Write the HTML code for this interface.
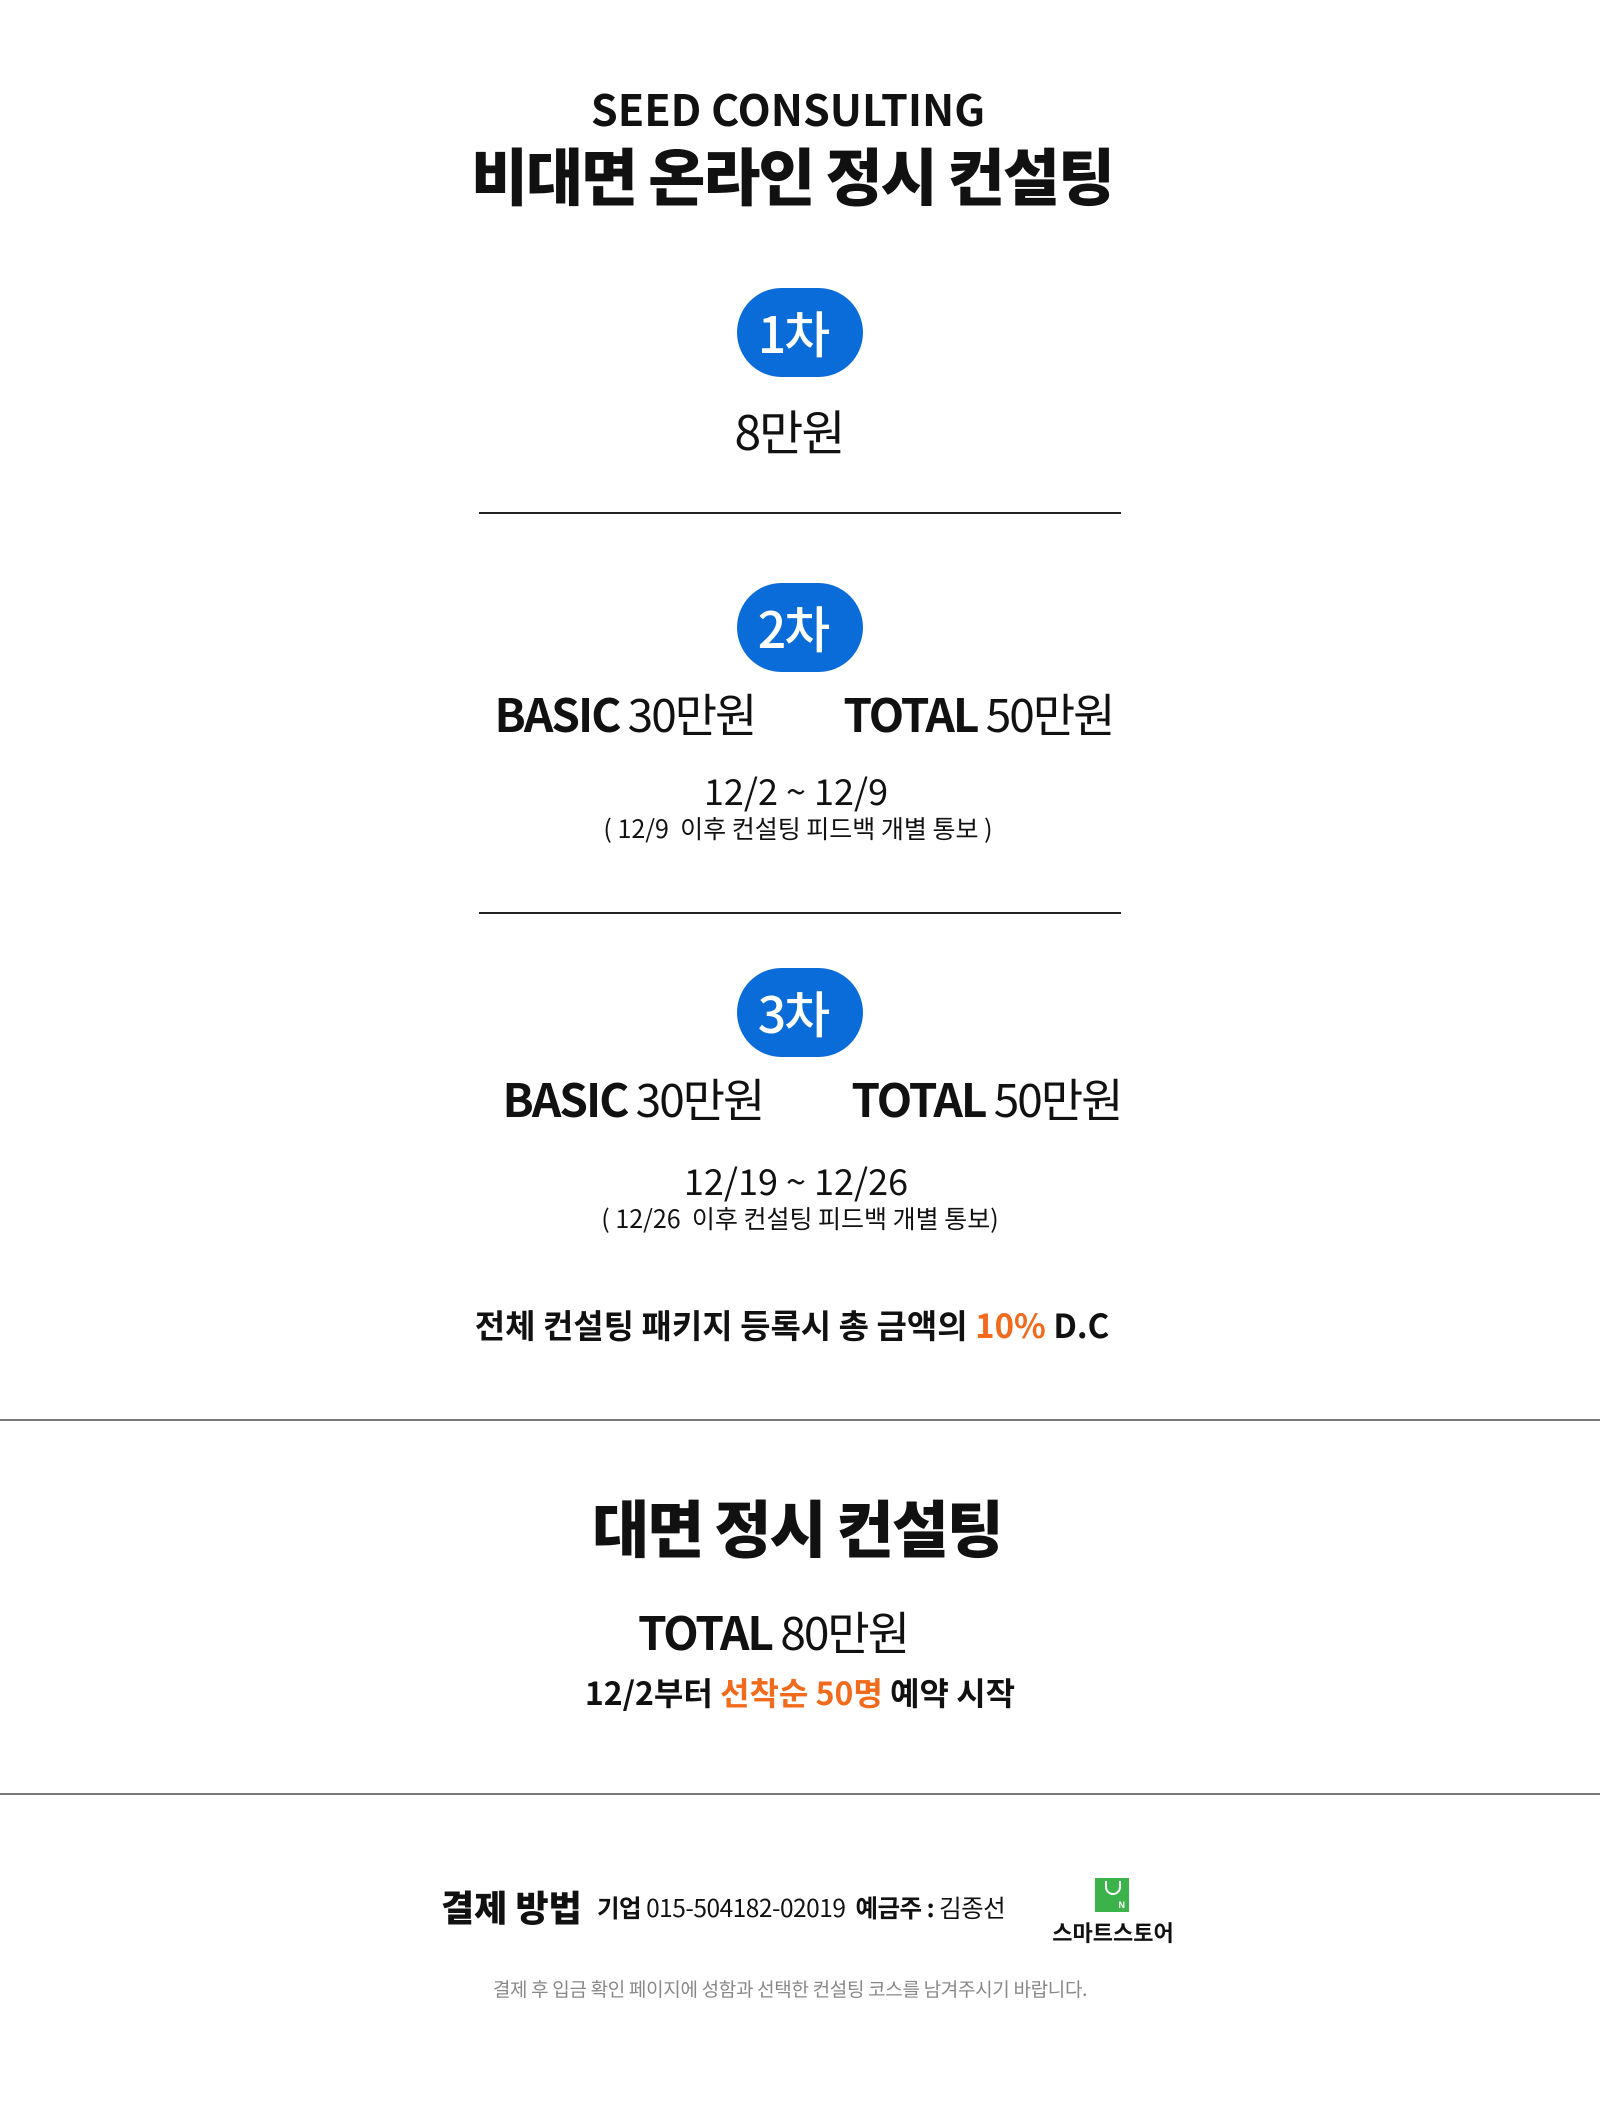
<!DOCTYPE html>
<html><head><meta charset="utf-8"><style>
body{margin:0;width:1600px;height:2117px;background:#fff;position:relative;overflow:hidden;font-family:"Liberation Sans","Noto Sans CJK KR",sans-serif;color:#111}
.t{position:absolute;left:0;width:1600px;text-align:center;line-height:1;white-space:nowrap}
.k{font-family:"Noto Sans CJK KR",sans-serif}
.pill{position:absolute;left:737px;width:126px;height:89px;border-radius:45px;background:#0a6cd8;color:#fff;font-family:"Noto Sans CJK KR",sans-serif;font-size:50px;font-weight:500;line-height:89px;text-align:center;letter-spacing:-2px;text-indent:-14px}
.ln{position:absolute;left:479px;width:642px;height:2px;background:#222}
.full{position:absolute;left:0;width:1600px;height:2px;background:#777}
.or{color:#f26a1b}
</style></head><body>
<div class="t k" style="top:87px;left:-12px;font-size:43px;font-weight:700">SEED CONSULTING</div>
<div class="t k" style="top:142px;left:-8px;font-size:62px;font-weight:900;letter-spacing:-2px">비대면 온라인 정시 컨설팅</div>

<div class="pill" style="top:288px">1차</div>
<div class="t k" style="top:405px;left:-11px;font-size:48px;font-weight:400;letter-spacing:-2px">8만원</div>
<div class="ln" style="top:512px"></div>

<div class="pill" style="top:583px">2차</div>
<div class="t k" style="top:690px;left:4px;font-size:46px;letter-spacing:-2px"><b>BASIC</b> 30만원<span style="display:inline-block;width:88px"></span><b>TOTAL</b> 50만원</div>
<div class="t k" style="top:772px;left:-4px;font-size:36px">12/2 ~ 12/9</div>
<div class="t k" style="top:816px;left:-2px;font-size:25px">( 12/9&nbsp; 이후 컨설팅 피드백 개별 통보 )</div>
<div class="ln" style="top:912px"></div>

<div class="pill" style="top:968px">3차</div>
<div class="t k" style="top:1075px;left:12px;font-size:46px;letter-spacing:-2px"><b>BASIC</b> 30만원<span style="display:inline-block;width:88px"></span><b>TOTAL</b> 50만원</div>
<div class="t k" style="top:1162px;left:-4px;font-size:36px">12/19 ~ 12/26</div>
<div class="t k" style="top:1206px;font-size:25px">( 12/26&nbsp; 이후 컨설팅 피드백 개별 통보)</div>

<div class="t k" style="top:1308px;left:-8px;font-size:33px;font-weight:700">전체 컨설팅 패키지 등록시 총 금액의 <span class="or">10%</span> D.C</div>
<div class="full" style="top:1419px"></div>

<div class="t k" style="top:1494px;left:-3px;font-size:62px;font-weight:900;letter-spacing:-2px">대면 정시 컨설팅</div>
<div class="t k" style="top:1608px;left:-27px;font-size:46px;letter-spacing:-2px"><b>TOTAL</b> 80만원</div>
<div class="t k" style="top:1676px;font-size:32px;font-weight:700">12/2부터 <span class="or">선착순 50명</span> 예약 시작</div>
<div class="full" style="top:1793px"></div>

<div class="k" style="position:absolute;left:441px;top:1888px;font-size:36px;font-weight:900;line-height:1;white-space:nowrap">결제 방법</div>
<div class="k" style="position:absolute;left:597px;top:1896px;font-size:24.5px;line-height:1;white-space:nowrap;letter-spacing:-0.5px"><b>기업</b> 015-504182-02019&nbsp; <b>예금주 :</b> 김종선</div>
<div style="position:absolute;left:1095px;top:1878px;width:34px;height:34px;background:#3cb34a"><div style="position:absolute;left:10px;top:3px;width:12px;height:12px;border:2px solid #fff;border-top:none;border-radius:0 0 8px 8px"></div><div style="position:absolute;right:4px;bottom:2px;color:#fff;font-size:9px;font-weight:700;font-family:'Liberation Sans',sans-serif">N</div></div>
<div class="k" style="position:absolute;left:1050px;top:1921px;width:126px;text-align:center;font-size:22px;font-weight:700;line-height:1;white-space:nowrap">스마트스토어</div>
<div class="t k" style="top:1979px;left:-10px;font-size:19px;color:#888;letter-spacing:-0.3px">결제 후 입금 확인 페이지에 성함과 선택한 컨설팅 코스를 남겨주시기 바랍니다.</div>
</body></html>
